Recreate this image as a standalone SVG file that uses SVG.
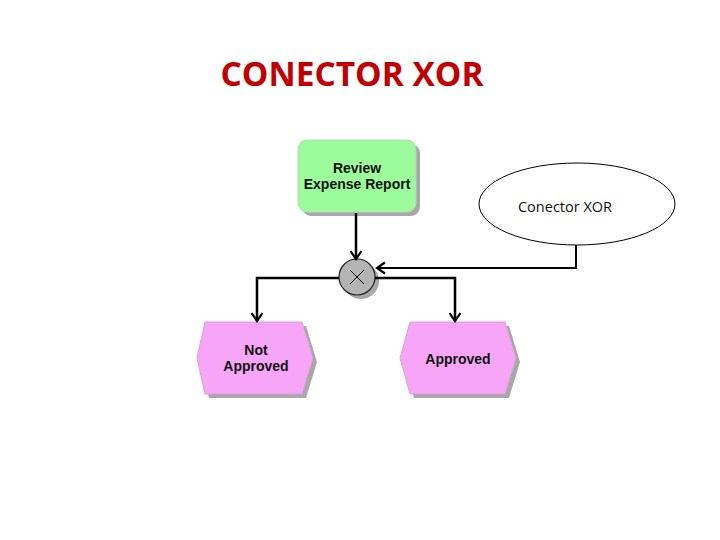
<svg xmlns="http://www.w3.org/2000/svg" width="720" height="540" viewBox="0 0 720 540">
<defs>
<marker id="arr" viewBox="0 0 12 14" refX="10" refY="7" markerWidth="12" markerHeight="14" markerUnits="userSpaceOnUse" orient="auto">
<path d="M2,1.5 L10,7 L2,12.5" fill="none" stroke="#000" stroke-width="2.2"/>
</marker>
</defs>
<style>
.lbl{font-family:"Liberation Sans",Arial,sans-serif;font-weight:bold;font-size:14px;fill:#111;text-anchor:middle}
.shadow{fill:#a8a8a8}
.conn{fill:none;stroke:#000;stroke-width:2.5}
</style>
<rect width="720" height="540" fill="#fff"/>
<text x="352" y="86" font-family="'Open Sans','Liberation Sans',sans-serif" font-weight="bold" font-size="34" fill="#c00000" text-anchor="middle" textLength="263" lengthAdjust="spacingAndGlyphs">CONECTOR XOR</text>

<g id="review">
<rect x="302" y="144" width="118" height="72" rx="9" class="shadow"/>
<rect x="298" y="140" width="118" height="72" rx="9" fill="#9cfc9c" stroke="#b8d8b8" stroke-width="1"/>
<text x="357" y="173" class="lbl">Review</text>
<text x="357" y="189" class="lbl">Expense Report</text>
</g>

<g id="xor">
<circle cx="361" cy="281" r="18" class="shadow"/>
<circle cx="357" cy="277" r="18" fill="#b4b4b4" stroke="#222" stroke-width="1.2"/>
<path d="M350,270 L364,284 M364,270 L350,284" stroke="#111" stroke-width="1"/>
</g>

<g id="notapproved">
<polygon points="209,326 306,326 317,362 306,398 209,398 201,362" class="shadow"/>
<polygon points="205,322 302,322 313,358 302,394 205,394 197,358" fill="#f7a6f7" stroke="#d9a0d9" stroke-width="1"/>
<text x="256" y="355" class="lbl">Not</text>
<text x="256" y="371" class="lbl">Approved</text>
</g>

<g id="approved">
<polygon points="414,326 509,326 520,362 509,398 414,398 404,362" class="shadow"/>
<polygon points="410,322 505,322 516,358 505,394 410,394 400,358" fill="#f7a6f7" stroke="#d9a0d9" stroke-width="1"/>
<text x="458" y="364" class="lbl">Approved</text>
</g>

<g id="note">
<ellipse cx="577" cy="204" rx="98" ry="41" fill="#fff" stroke="#000" stroke-width="1"/>
<text x="565" y="212" font-family="'Open Sans','Liberation Sans',sans-serif" font-size="14.5" fill="#111" text-anchor="middle">Conector XOR</text>
</g>

<g id="connectors">
<path d="M356,213 L356,259" class="conn" marker-end="url(#arr)"/>
<path d="M339,278 L257,278 L257,321" class="conn" marker-end="url(#arr)"/>
<path d="M375,278 L455,278 L455,321" class="conn" marker-end="url(#arr)"/>
<path d="M576,245 L576,268 L377,268" fill="none" stroke="#000" stroke-width="2" marker-end="url(#arr)"/>
</g>
</svg>
